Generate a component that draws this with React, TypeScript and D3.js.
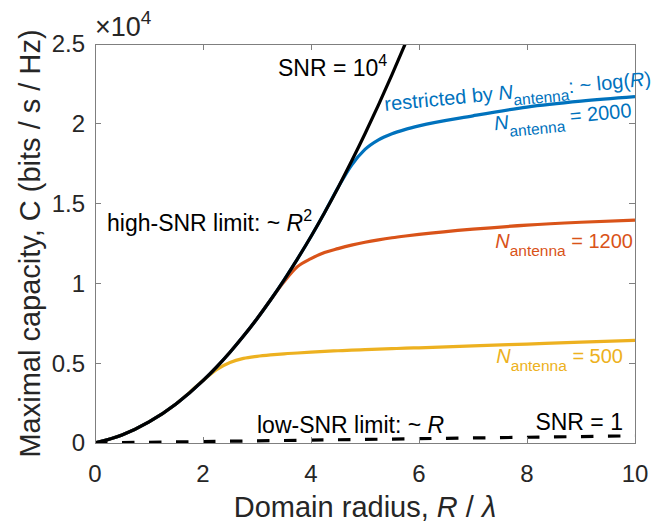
import React from 'react';
import * as d3 from 'd3';

// radius grid R / lambda shared by the curves
const radius = [0, 0.5, 1, 1.5, 2, 2.25, 2.5, 2.75, 3, 3.25, 3.5, 3.75, 4, 4.25, 4.5, 4.75, 5, 5.25, 5.5, 5.75, 6, 7, 8, 9, 10];

// SNR = 1e4, unrestricted (runs off the top of the axes)
const capHighSnr = [0, 500, 1320, 2450, 3910, 4760, 5690, 6700, 7790, 8960, 10210, 11540, 12940, 14430, 16000, 17650, 19380, 21190, 23080, 25050, 27100];
// restricted by number of antennas
const capAnt2000 = [0, 500, 1320, 2450, 3910, 4760, 5690, 6700, 7790, 8960, 10210, 11540, 12940, 14430, 16000, 17400, 18400, 19000, 19380, 19650, 19870, 20500, 21050, 21420, 21700];
const capAnt1200 = [0, 500, 1320, 2450, 3910, 4760, 5690, 6700, 7790, 8960, 10100, 11050, 11550, 11930, 12180, 12400, 12580, 12730, 12860, 12970, 13070, 13400, 13650, 13830, 13970];
const capAnt500 = [0, 500, 1320, 2450, 3910, 4600, 5050, 5300, 5430, 5520, 5590, 5640, 5690, 5740, 5780, 5820, 5850, 5880, 5910, 5940, 5965, 6080, 6200, 6320, 6430];
// SNR = 1, low-SNR limit ~ R
const lowSnrRadius = [0, 10];
const capLowSnr = [0, 450];

const xTicks = [0, 2, 4, 6, 8, 10];
const yTicks = [0, 5000, 10000, 15000, 20000, 25000];
const yTickLabels = ['0', '0.5', '1', '1.5', '2', '2.5'];

const colors = { blue: '#0072BD', red: '#D95319', yellow: '#EDB120' };
const font = 'Liberation Sans, Arial, Helvetica, sans-serif';
const textColor = '#262626';
const axisColor = '#7f7f7f';

export default function App() {
  const width = 658;
  const height = 522;
  const left = 95, right = 635, top = 44, bottom = 443;

  const x = d3.scaleLinear().domain([0, 10]).range([left, right]);
  const y = d3.scaleLinear().domain([0, 25000]).range([bottom, top]);

  const line = d3.line<[number, number]>()
    .x(d => x(d[0]))
    .y(d => y(d[1]))
    .curve(d3.curveMonotoneX);

  const pairs = (vals: number[], rs = radius) => vals.map((v, i) => [rs[i], v] as [number, number]);

  const tickLen = 6;

  return (
    <svg width={width} height={height} style={{ position: 'absolute', left: 0, top: 0, background: '#fff' }}
      fontFamily={font}>
      <defs>
        <clipPath id="plot">
          <rect x={left} y={top} width={right - left} height={bottom - top} />
        </clipPath>
      </defs>

      {/* curves */}
      <g clipPath="url(#plot)" fill="none" strokeLinejoin="round">
        <path d={line(pairs(capAnt500)) || ''} stroke={colors.yellow} strokeWidth={3.2} />
        <path d={line(pairs(capAnt1200)) || ''} stroke={colors.red} strokeWidth={3.2} />
        <path d={line(pairs(capAnt2000)) || ''} stroke={colors.blue} strokeWidth={3.2} />
        <path d={line(pairs(capHighSnr)) || ''} stroke="#000" strokeWidth={3.2} />
        <path d={line(pairs(capLowSnr, lowSnrRadius)) || ''} stroke="#000" strokeWidth={3.2}
          strokeDasharray="12.5 14.5" />
      </g>

      {/* box + ticks */}
      <g stroke={axisColor} strokeWidth={1} fill="none" shapeRendering="crispEdges">
        <rect x={left} y={top} width={right - left} height={bottom - top} />
        {xTicks.map(t => (
          <g key={'x' + t}>
            <line x1={x(t)} x2={x(t)} y1={bottom} y2={bottom - tickLen} />
            <line x1={x(t)} x2={x(t)} y1={top} y2={top + tickLen} />
          </g>
        ))}
        {yTicks.map(t => (
          <g key={'y' + t}>
            <line x1={left} x2={left + tickLen} y1={y(t)} y2={y(t)} />
            <line x1={right} x2={right - tickLen} y1={y(t)} y2={y(t)} />
          </g>
        ))}
      </g>

      {/* tick labels */}
      <g fill={textColor} fontSize={24}>
        {xTicks.map(t => (
          <text key={'xl' + t} x={x(t)} y={482} textAnchor="middle">{t}</text>
        ))}
        {yTicks.map((t, i) => (
          <text key={'yl' + t} x={85} y={y(t)} dy="0.35em" textAnchor="end">{yTickLabels[i]}</text>
        ))}
        <text x={95} y={36} fontSize={27}>×10<tspan fontSize={19} dy={-12}>4</tspan></text>
      </g>

      {/* axis labels */}
      <text x={(left + right) / 2} y={517} textAnchor="middle" fontSize={29} fill={textColor}>
        Domain radius, <tspan fontStyle="italic">R</tspan> / <tspan fontStyle="italic">λ</tspan>
      </text>
      <text transform={`translate(40,${(top + bottom) / 2}) rotate(-90)`} textAnchor="middle" fontSize={29} fill={textColor}>
        Maximal capacity, C (bits / s / Hz)
      </text>

      {/* annotations */}
      <g fontSize={23} fill="#000">
        <text x={278} y={76}>SNR = 10<tspan fontSize={16} dy={-10}>4</tspan></text>
        <text x={107} y={231}>high-SNR limit: ~ <tspan fontStyle="italic">R</tspan><tspan fontSize={16} dy={-10}>2</tspan></text>
        <text x={257} y={433}>low-SNR limit: ~ <tspan fontStyle="italic">R</tspan></text>
        <text x={623} y={430} textAnchor="end">SNR = 1</text>
      </g>
      <g fontSize={20}>
        <text transform="translate(385,111) rotate(-5.5)" fill={colors.blue}>
          restricted by <tspan fontStyle="italic">N</tspan><tspan fontSize={15.5} dy={7}>antenna</tspan><tspan dy={-7}>: ~ log(</tspan><tspan fontStyle="italic">R</tspan>)
        </text>
        <text transform="translate(632,117) rotate(-5.5)" textAnchor="end" fill={colors.blue}>
          <tspan fontStyle="italic">N</tspan><tspan fontSize={15.5} dy={8}>antenna</tspan><tspan dy={-8}> = 2000</tspan>
        </text>
        <text x={633} y={248} textAnchor="end" fill={colors.red}>
          <tspan fontStyle="italic">N</tspan><tspan fontSize={15.5} dy={8}>antenna</tspan><tspan dy={-8}> = 1200</tspan>
        </text>
        <text x={623} y={363} textAnchor="end" fill={colors.yellow}>
          <tspan fontStyle="italic">N</tspan><tspan fontSize={15.5} dy={8}>antenna</tspan><tspan dy={-8}> = 500</tspan>
        </text>
      </g>
    </svg>
  );
}
